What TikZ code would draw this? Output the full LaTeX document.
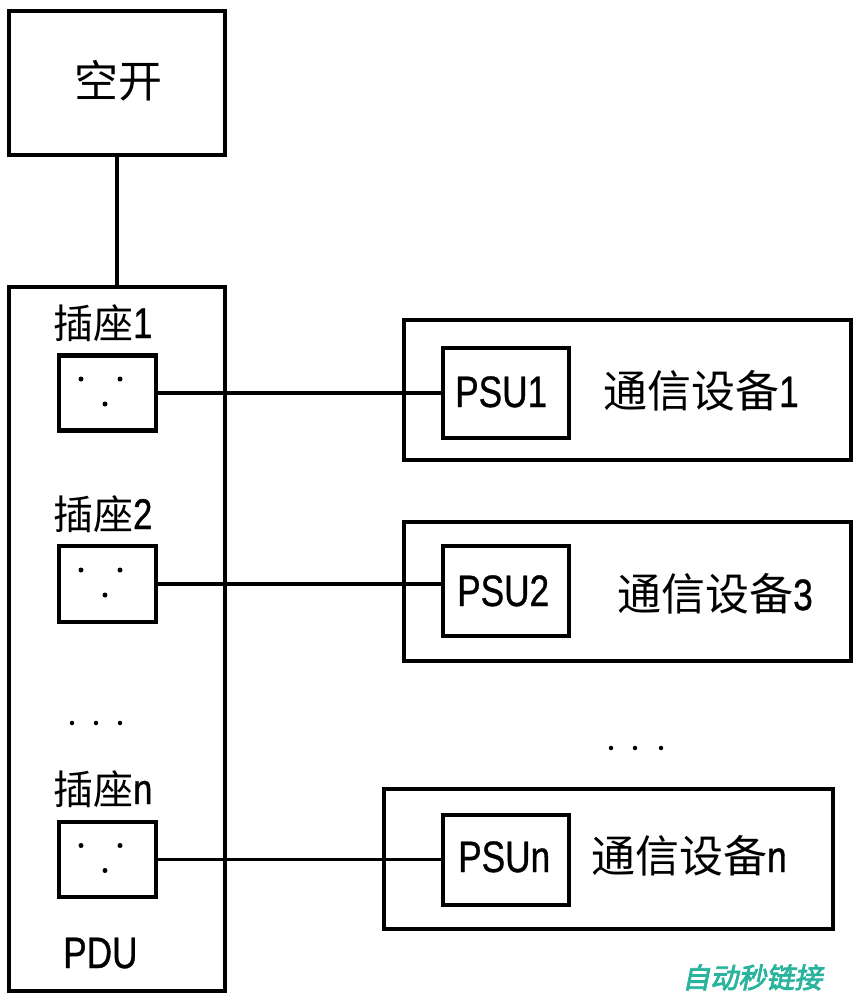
\documentclass[tikz,border=0pt]{standalone}
\usepackage{fontspec}
\setmainfont{Liberation Sans}
\newfontfamily\cjk{Noto Sans CJK SC}
\newfontfamily\narrow[FakeStretch=0.8,FakeBold=0.8]{Liberation Sans}
\newfontfamily\wmfont[FakeBold=3,FakeSlant=0.2]{Noto Sans CJK SC}
\definecolor{wmteal}{HTML}{2AB39D}
\newcommand{\digA}[1]{{\fontsize{44}{44}\selectfont\narrow #1}}
\newcommand{\digB}[1]{{\fontsize{43}{43}\selectfont\narrow #1}}
\begin{document}
\begin{tikzpicture}[x=1pt,y=-1pt,
  box/.style={draw, line width=4.5pt, rectangle, inner sep=0pt},
  wire/.style={line width=3.6pt},
  lbl/.style={anchor=base west, inner sep=0pt},
  pindot/.style={fill=black, draw=none, circle, inner sep=0pt, minimum size=5pt},
  bigcjk/.style={font=\fontsize{44}{44}\selectfont\cjk},
  sockcjk/.style={font=\fontsize{40}{40}\selectfont\cjk},
  latin/.style={font=\fontsize{44}{44}\selectfont\narrow}]
\useasboundingbox (0,0) rectangle (859,1000);

% breaker and PDU
\node[box, minimum width=216pt, minimum height=144pt] (kk) at (117,83) {};
\node[bigcjk, anchor=base] (kkt) at (118,98) {空开};
\node[box, minimum width=216pt, minimum height=704pt] (pdu) at (117,639) {};
\node[lbl, latin] (pdut) at (63,968) {PDU};
\draw[wire] (kk.south) -- (pdu.north);

% sockets
\node[lbl, sockcjk] (l1) at (53,338) {插座\digB{1}};
\node[box, minimum width=97pt, minimum height=75pt] (s1) at (107.5,393) {};
\node[lbl, sockcjk] (l2) at (53,529) {插座\digB{2}};
\node[box, minimum width=97pt, minimum height=76pt] (s2) at (107.5,584) {};
\node[lbl, sockcjk] (ln) at (53,804) {插座\digB{n}};
\node[box, minimum width=97pt, minimum height=75pt] (sn) at (107.5,859.5) {};

\foreach \s/\y in {s1/393, s2/584, sn/859.5}{
  \node[pindot] (\s a) at (81,\y-14) {};
  \node[pindot] (\s b) at (120,\y-14) {};
  \node[pindot] (\s c) at (105,\y+11) {};
}

% left ellipsis
\node[pindot, minimum size=4.5pt] (ld1) at (72,723) {};
\node[pindot, minimum size=4.5pt] (ld2) at (96,723) {};
\node[pindot, minimum size=4.5pt] (ld3) at (120,723) {};

% devices
\node[box, minimum width=447pt, minimum height=140pt] (d1) at (627.5,390) {};
\node[box, minimum width=126pt, minimum height=90pt] (p1) at (506,393) {};
\node[lbl, latin] (p1t) at (455,407) {PSU1};
\node[lbl, bigcjk] (d1t) at (603,407) {通信设备\digA{1}};

\node[box, minimum width=447pt, minimum height=139pt] (d3) at (627.5,591.5) {};
\node[box, minimum width=126pt, minimum height=90pt] (p2) at (506,591) {};
\node[lbl, latin] (p2t) at (457,606) {PSU2};
\node[lbl, bigcjk] (d3t) at (617,610) {通信设备\digA{3}};

\node[box, minimum width=449pt, minimum height=140pt] (dn) at (608.5,859) {};
\node[box, minimum width=126pt, minimum height=90pt] (pn) at (506,860) {};
\node[lbl, latin] (pnt) at (458,872) {PSUn};
\node[lbl, bigcjk] (dnt) at (591,872) {通信设备\digA{n}};

% right ellipsis
\node[pindot, minimum size=4.5pt] (rd1) at (611,748) {};
\node[pindot, minimum size=4.5pt] (rd2) at (635,748) {};
\node[pindot, minimum size=4.5pt] (rd3) at (661,748) {};

% connectors
\draw[wire] (s1.east) -- (s1.east -| p1.west);
\draw[wire] (s2.east) -- (s2.east -| p2.west);
\draw[wire] (sn.east) -- (sn.east -| pn.west);

% watermark
\node[lbl, text=wmteal, font=\fontsize{28}{28}\selectfont\wmfont] (wm) at (682,988) {自动秒链接};
\end{tikzpicture}
\end{document}
